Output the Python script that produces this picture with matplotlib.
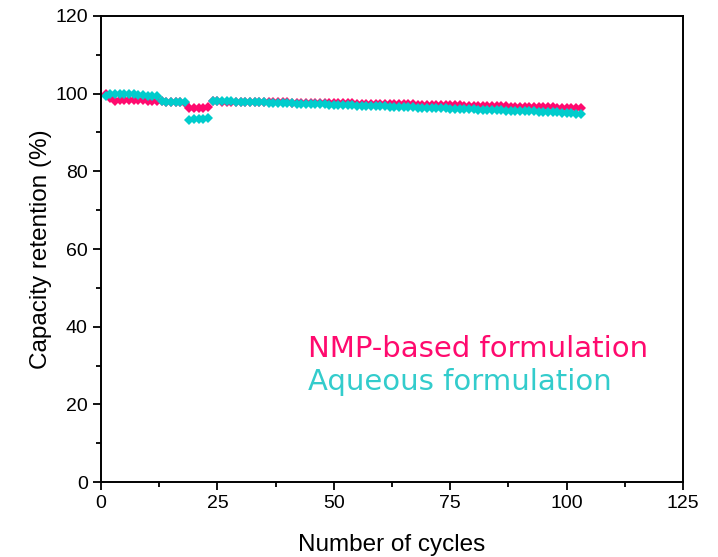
import numpy as np
import matplotlib.pyplot as plt
from matplotlib.ticker import MultipleLocator

cycles = list(range(1, 104))

nmp = [100.0, 98.9,
       98.2, 98.3, 98.3, 98.4, 98.4, 98.3, 98.3, 98.2, 98.2, 98.1,
       98.0, 97.9, 97.9, 97.8, 97.8, 97.7,
       96.2, 96.3, 96.4, 96.4, 96.5,
       98.0, 98.0, 97.98, 97.96, 97.95, 97.93, 97.92, 97.9, 97.88, 97.86,
       97.85, 97.83, 97.81, 97.8, 97.78, 97.76, 97.74, 97.72, 97.71, 97.69,
       97.67, 97.65, 97.63, 97.62, 97.6, 97.58, 97.56, 97.54, 97.52, 97.5,
       97.48, 97.46, 97.44, 97.42, 97.4, 97.38, 97.36, 97.34, 97.32, 97.3,
       97.28, 97.25, 97.23, 97.21, 97.19, 97.17, 97.14, 97.12, 97.1, 97.07,
       97.05, 97.02, 97.0, 96.98, 96.95, 96.93, 96.9, 96.88, 96.85, 96.82,
       96.8, 96.77, 96.74, 96.72, 96.69, 96.66, 96.63, 96.6, 96.58, 96.55,
       96.52, 96.49, 96.47, 96.44, 96.42, 96.4, 96.38, 96.35, 96.33, 96.3]

aqueous = [99.3, 100.0,
           99.9, 99.9, 99.8, 99.8, 99.8, 99.7, 99.6, 99.5, 99.4, 99.3,
           98.0, 97.9, 97.9, 97.9, 97.8, 97.8,
           93.3, 93.4, 93.5, 93.6, 93.8,
           98.1, 98.08, 98.05, 98.02, 98.0, 97.96, 97.93, 97.9, 97.86, 97.82,
           97.78, 97.74, 97.7, 97.66, 97.62, 97.58, 97.54, 97.5, 97.46, 97.42,
           97.38, 97.34, 97.3, 97.26, 97.22, 97.18, 97.14, 97.1, 97.06, 97.02,
           96.98, 96.94, 96.9, 96.86, 96.82, 96.78, 96.74, 96.7, 96.66, 96.62,
           96.58, 96.54, 96.5, 96.46, 96.42, 96.38, 96.34, 96.3, 96.26, 96.22,
           96.18, 96.14, 96.1, 96.06, 96.02, 95.98, 95.94, 95.9, 95.86, 95.82,
           95.78, 95.74, 95.7, 95.66, 95.62, 95.58, 95.54, 95.5, 95.46, 95.42,
           95.38, 95.32, 95.27, 95.21, 95.15, 95.08, 95.01, 94.93, 94.85, 94.75]

pink = '#ff0a6e'
cyan = '#00cccc'

plt.rcParams['font.family'] = ['Liberation Sans', 'DejaVu Sans']

fig = plt.figure(figsize=(7.18, 5.57), dpi=100)
ax = fig.add_axes([0.1407, 0.1346, 0.8106, 0.8367])

ax.plot(cycles, nmp, 'D', color=pink, markersize=5.5, markeredgewidth=0)
ax.plot(cycles, aqueous, 'D', color=cyan, markersize=5.5, markeredgewidth=0)

ax.set_xlim(0, 125)
ax.set_ylim(0, 120)
ax.xaxis.set_major_locator(MultipleLocator(25))
ax.xaxis.set_minor_locator(MultipleLocator(12.5))
ax.yaxis.set_major_locator(MultipleLocator(20))
ax.yaxis.set_minor_locator(MultipleLocator(10))
ax.tick_params(which='both', direction='out', width=1.3, labelsize=14,
               top=False, right=False)
ax.tick_params(which='major', length=6)
ax.tick_params(which='minor', length=3.5)
for s in ax.spines.values():
    s.set_linewidth(1.4)

ax.set_xlabel('Number of cycles', fontsize=17.5, labelpad=16)
ax.set_ylabel('Capacity retention (%)', fontsize=17.5, labelpad=2)

ax.text(0.355, 0.268, 'NMP-based formulation', transform=ax.transAxes,
        color=pink, fontsize=21, family='DejaVu Sans')
ax.text(0.355, 0.197, 'Aqueous formulation', transform=ax.transAxes,
        color='#33cccc', fontsize=21, family='DejaVu Sans')

fig.savefig('out.png', dpi=100)
